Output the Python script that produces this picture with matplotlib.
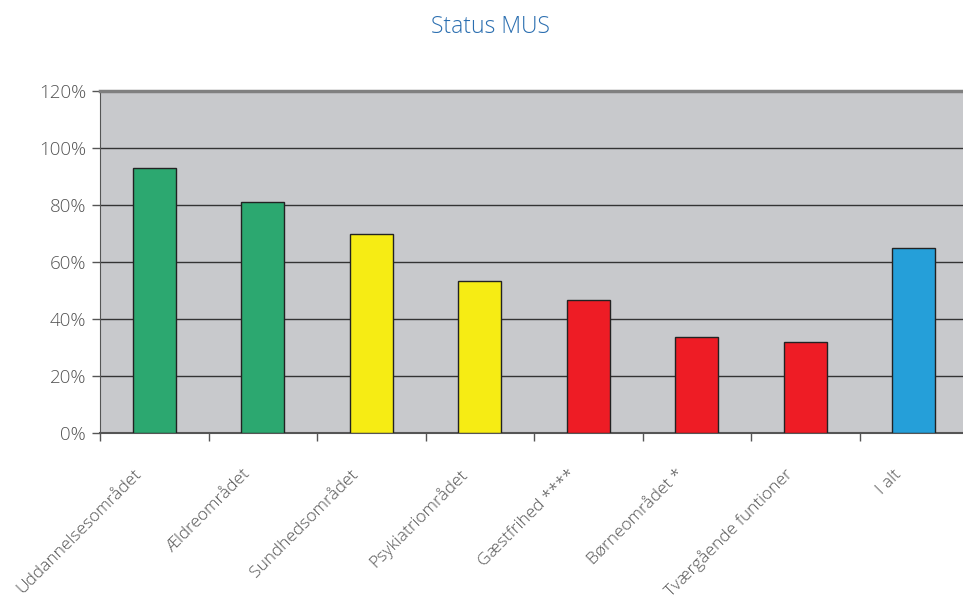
import numpy as np
import matplotlib.pyplot as plt
from matplotlib.ticker import FixedLocator, PercentFormatter

categories = ["Uddannelsesområdet", "Ældreområdet", "Sundhedsområdet",
              "Psykiatriområdet", "Gæstfrihed ****", "Børneområdet *",
              "Tværgående funtioner", "I alt"]
values = [93, 81, 70, 53.5, 46.5, 33.7, 32, 65]
colors = ["#2ca870", "#2ca870", "#f6ec14", "#f6ec14",
          "#ee1c25", "#ee1c25", "#ee1c25", "#259fd9"]
yticks = [0, 20, 40, 60, 80, 100, 120]

plt.rcParams['font.family'] = ['Open Sans', 'DejaVu Sans']

fig = plt.figure(figsize=(9.63, 6.01), dpi=100)
ax = fig.add_axes([100 / 963, 1 - 433 / 601, 868 / 963, 342 / 601])
ax.set_facecolor("#c8c9cc")

x = np.arange(len(categories))
ax.bar(x, values, width=0.4, color=colors, edgecolor="#222222",
       linewidth=1, zorder=3)

ax.set_xlim(-0.5, len(categories) - 0.5)
ax.set_ylim(0, 120)
ax.set_yticks(yticks)
ax.yaxis.set_major_formatter(PercentFormatter(decimals=0))
ax.grid(axis="y", color="#333333", linewidth=1, zorder=1)

# category labels: slanted, a little left of the bar centre
ax.set_xticks(x)
ax.set_xticklabels([])
for xi, name in zip(x, categories):
    ax.annotate(name, xy=(xi, 0), xycoords=("data", "axes fraction"),
                xytext=(-11, -28), textcoords="offset points",
                rotation=45, ha="right", va="center", rotation_mode="anchor",
                color="#555555", fontsize=12.5, fontweight="light",
                annotation_clip=False)
ax.xaxis.set_minor_locator(FixedLocator(np.arange(len(categories)) - 0.5))
ax.tick_params(axis="x", which="major", length=0)
ax.tick_params(axis="x", which="minor", length=6, color="#555555", width=1)
ax.tick_params(axis="y", length=6, color="#555555", width=1,
               labelcolor="#555555", labelsize=13.5, pad=4)
for lbl in ax.get_yticklabels():
    lbl.set_fontweight("light")

for side in ["top", "right"]:
    ax.spines[side].set_visible(False)
ax.spines["left"].set_color("#555555")
ax.spines["bottom"].set_color("#555555")
ax.spines["bottom"].set_linewidth(1.5)
ax.axhline(120, color="#808080", linewidth=2.5, zorder=4, clip_on=False)

fig.text(490 / 963, 1 - 27 / 601, "Status MUS", ha="center", va="center",
         color="#2a6eb0", fontsize=16.5, fontweight="light")

fig.savefig("out.png", dpi=100)
